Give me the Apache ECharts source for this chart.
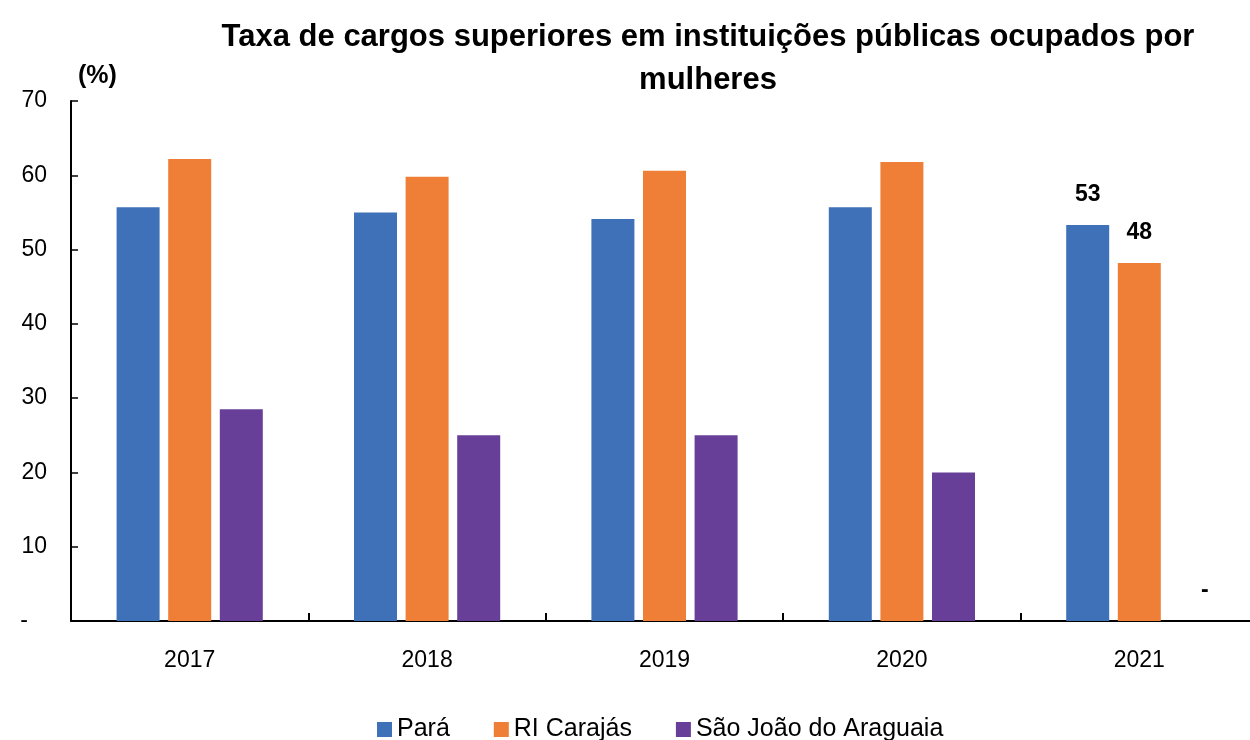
<!DOCTYPE html>
<html><head><meta charset="utf-8">
<script src="https://cdn.jsdelivr.net/npm/echarts@6/dist/echarts.min.js"></script>
<style>html,body{margin:0;padding:0;background:#fff;overflow:hidden}#c{width:1260px;height:740px}</style>
</head><body><div id="c"></div>
<script>
const categories = ['2017','2018','2019','2020','2021'];
const para = [55.7, 55.0, 54.1, 55.7, 53.3];
const riCarajas = [62.2, 59.8, 60.6, 61.8, 48.2];
const saoJoao = [28.5, 25.0, 25.0, 20.0, 0];
const yTicks = ['-   ', '10', '20', '30', '40', '50', '60', '70'];
const labelled = {para: [4], riCarajas: [4], saoJoao: [4]};
const FONT = '"Liberation Sans Narrow", "Arial Narrow", "Liberation Sans", Arial, sans-serif';

function mk(name, data, color, key) {
  return {
    name, type: 'bar', data: data.map((v, i) => ({
      value: v,
      label: labelled[key].includes(i) ? {
        show: true, position: 'top', distance: 19,
        formatter: v === 0 ? '-' : String(Math.round(v)),
        fontFamily: FONT, fontSize: 23, fontWeight: 'bold', color: '#000',
        offset: v === 0 ? [14, 0] : [0, 0]
      } : {show: false}
    })),
    itemStyle: {color}, barWidth: 43, barGap: '20%'
  };
}

const chart = echarts.init(document.getElementById('c'));
chart.setOption({
  animation: false,
  title: {
    text: 'Taxa de cargos superiores em instituições públicas ocupados por\nmulheres',
    left: 703, top: 11, textAlign: 'center',
    textStyle: {fontFamily: FONT, fontSize: 31, fontWeight: 'bold', color: '#000', lineHeight: 43}
  },
  graphic: [{type: 'text', left: 78, top: 64, style: {text: '(%)', fontFamily: FONT, fontSize: 25, fontWeight: 'bold', fill: '#000'}}],
  legend: {
    top: 712, left: 372, itemWidth: 15, itemHeight: 15, itemGap: 44, icon: 'rect',
    textStyle: {fontFamily: FONT, fontSize: 25, color: '#000'}
  },
  grid: {left: 71, top: 101, width: 1187, bottom: 119, containLabel: false},
  xAxis: {
    type: 'category', data: categories,
    axisLine: {lineStyle: {color: '#000', width: 2}},
    axisTick: {show: true, inside: true, length: 8, lineStyle: {color: '#000', width: 2}},
    axisLabel: {fontFamily: FONT, fontSize: 23, color: '#000', margin: 28}
  },
  yAxis: {
    type: 'value', min: 0, max: 70, interval: 10,
    axisLine: {show: true, lineStyle: {color: '#000', width: 2}},
    axisTick: {show: true, inside: true, length: 7, lineStyle: {color: '#000', width: 1.5}},
    splitLine: {show: false},
    axisLabel: {fontFamily: FONT, fontSize: 23, color: '#000', margin: 24,
      formatter: (v) => yTicks[Math.round(v / 10)]}
  },
  series: [
    mk('Pará', para, '#3F71B8', 'para'),
    mk('RI Carajás', riCarajas, '#EF7F37', 'riCarajas'),
    mk('São João do Araguaia', saoJoao, '#673F98', 'saoJoao')
  ]
});
</script></body></html>
